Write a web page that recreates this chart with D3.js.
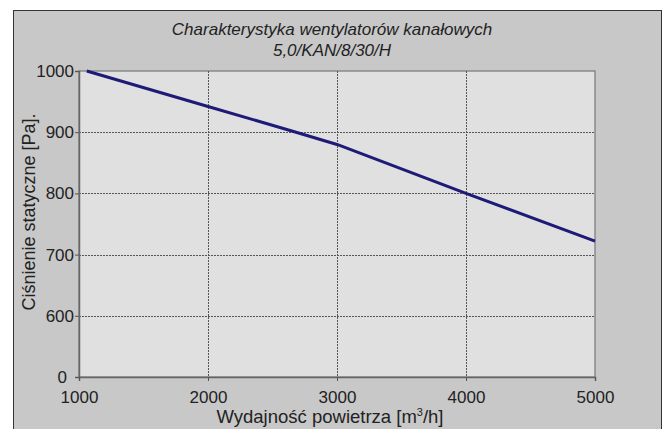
<!DOCTYPE html>
<html><head><meta charset="utf-8">
<script src="https://cdn.jsdelivr.net/npm/d3@7/dist/d3.min.js"></script>
<style>body{margin:0;background:#fff}svg{display:block}text{font-family:"Liberation Sans",Arial,sans-serif;fill:#222}</style>
</head><body>
<script>
const flowValues = [1060, 2000, 2650, 3000, 4000, 5000];
const pressureValues = [1000, 942, 902, 880, 800, 722];
const xTicks = [1000, 2000, 3000, 4000, 5000];
const yTicks = [500, 600, 700, 800, 900, 1000];
const yTickLabels = ["0", "600", "700", "800", "900", "1000"];
const titleLines = ["Charakterystyka wentylatorów kanałowych", "5,0/KAN/8/30/H"];

const W = 665, H = 429;
const svg = d3.select("body").append("svg").attr("width", W).attr("height", H);
const m = {l: 79, r: 595, t: 71, b: 377};
svg.append("rect").attr("x", 13.5).attr("y", 10.5).attr("width", 648).attr("height", 430)
  .attr("fill", "#c8c8c8").attr("stroke", "#333").attr("stroke-width", 1);

const x = d3.scaleLinear().domain([1000, 5000]).range([m.l, m.r]);
const y = d3.scaleLinear().domain([500, 1000]).range([m.b, m.t]);

svg.append("rect").attr("x", m.l).attr("y", m.t).attr("width", m.r - m.l).attr("height", m.b - m.t)
  .attr("fill", "#e0e0e0").attr("stroke", "#777").attr("stroke-width", 1.2);

const g = svg.append("g");
g.selectAll(".hg").data(yTicks.filter(v => v > 500 && v < 1000)).join("line")
  .attr("x1", m.l).attr("x2", m.r).attr("y1", d => Math.round(y(d)) + 0.5).attr("y2", d => Math.round(y(d)) + 0.5)
  .attr("stroke", "#555").attr("stroke-dasharray", "2,1");
g.selectAll(".vg").data(xTicks.filter(v => v > 1000 && v < 5000)).join("line")
  .attr("y1", m.t).attr("y2", m.b).attr("x1", d => Math.round(x(d)) + 0.5).attr("x2", d => Math.round(x(d)) + 0.5)
  .attr("stroke", "#555").attr("stroke-dasharray", "2,1");

const yAxis = d3.axisLeft(y).tickValues(yTicks).tickFormat((d, i) => yTickLabels[i]).tickSize(4).tickPadding(1);
const ya = svg.append("g").attr("transform", `translate(${m.l},0)`).call(yAxis);
ya.select(".domain").attr("stroke", "#666").attr("stroke-width", 1.5);
ya.selectAll(".tick line").attr("stroke", "#555");
ya.selectAll("text").style("font-size", "17px").attr("fill", "#222")
  .attr("dx", (d, i) => i === 0 ? -7 : 0);

const xAxis = d3.axisBottom(x).tickValues(xTicks).tickFormat(d3.format("d")).tickSize(4).tickPadding(10);
const xa = svg.append("g").attr("transform", `translate(0,${m.b})`).call(xAxis);
xa.select(".domain").attr("stroke", "#666").attr("stroke-width", 1.5);
xa.selectAll(".tick line").attr("stroke", "#555");
xa.selectAll("text").style("font-size", "17px").attr("fill", "#222");

const line = d3.line().x((d, i) => x(flowValues[i])).y(d => y(d));
svg.append("path").datum(pressureValues).attr("d", line)
  .attr("fill", "none").attr("stroke", "#1e1a78").attr("stroke-width", 3);

svg.selectAll(".title").data(titleLines).join("text")
  .attr("x", 332).attr("y", (d, i) => 35 + i * 21).attr("text-anchor", "middle")
  .style("font-size", "17px").style("font-style", "italic").text(d => d);

svg.append("text").attr("x", 330).attr("y", 423).attr("text-anchor", "middle")
  .style("font-size", "18.5px")
  .html('Wydajność powietrza [m<tspan dy="-7" style="font-size:11px">3</tspan><tspan dy="7">/h]</tspan>');

svg.append("text").attr("transform", "translate(35,212) rotate(-90)").attr("text-anchor", "middle")
  .style("font-size", "18px").text("Ciśnienie statyczne [Pa].");
</script>
</body></html>
